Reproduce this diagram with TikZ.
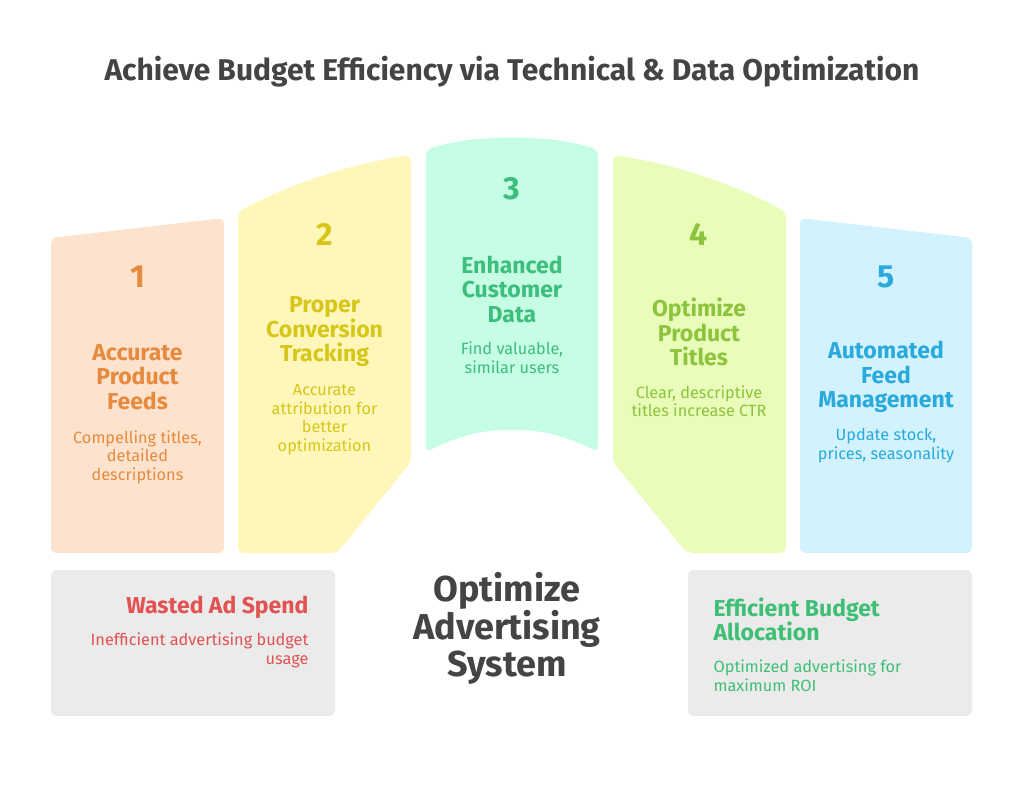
\documentclass[tikz,border=0pt]{standalone}
\usepackage{fontspec}
\setmainfont{Fira Sans}
\usepackage{tikz}

\definecolor{peachfill}{HTML}{FDE3CD}
\definecolor{peachtxt}{HTML}{E58A3E}
\definecolor{yellowfill}{HTML}{FEF7B9}
\definecolor{yellowtxt}{HTML}{D6C61A}
\definecolor{mintfill}{HTML}{C6FDE5}
\definecolor{minttxt}{HTML}{3DBE7C}
\definecolor{limefill}{HTML}{E9FCB9}
\definecolor{limetxt}{HTML}{8DC43D}
\definecolor{cyanfill}{HTML}{D2F3FE}
\definecolor{cyantxt}{HTML}{29A9DC}
\definecolor{boxgray}{HTML}{EBEBEB}
\definecolor{wastered}{HTML}{E15251}
\definecolor{goodgreen}{HTML}{3FBF76}
\definecolor{darktxt}{HTML}{444444}

\begin{document}
\begin{tikzpicture}[x=1pt, y=-1pt,
  numtxt/.style={font=\fontsize{32}{32}\selectfont\bfseries},
  ttltxt/.style={align=center, font=\fontsize{23}{24.5}\selectfont\bfseries},
  dsctxt/.style={align=center, font=\fontsize{16.3}{18.5}\selectfont}]
\useasboundingbox [fill=white] (0,0) rectangle (1024,793);

% title
\node (title) [text=darktxt, font=\fontsize{30}{30}\selectfont\bfseries] at (512,72) {Achieve Budget Efficiency via Technical \& Data Optimization};

% five columns
\fill [peachfill, rounded corners=6] (51,553) -- (51,238) -- (224,218) -- (224,553) -- cycle;
\fill [yellowfill, rounded corners=6] (238,553) -- (238,212) .. controls (290,184) and (350,164) .. (411,155) -- (411,462) -- (337,553) -- cycle;
\fill [mintfill, rounded corners=6] (426,452) -- (426,150) .. controls (470,134) and (554,134) .. (598,150) -- (598,452) .. controls (570,438) and (545,430) .. (512,430) .. controls (479,430) and (454,438) .. (426,452) -- cycle;
\fill [limefill, rounded corners=6] (613,462) -- (613,155) .. controls (674,164) and (734,184) .. (786,212) -- (786,553) -- (687,553) -- cycle;
\fill [cyanfill, rounded corners=6] (800,553) -- (800,218) -- (972,238) -- (972,553) -- cycle;

% column 1
\node (num1) [numtxt, text=peachtxt] at (137.5,277) {1};
\node (ttl1) [ttltxt, text=peachtxt] at (137.5,377) {Accurate\\Product\\Feeds};
\node (dsc1) [dsctxt, text=peachtxt] at (137.5,457) {Compelling titles,\\detailed\\descriptions};

% column 2
\node (num2) [numtxt, text=yellowtxt] at (324.5,234) {2};
\node (ttl2) [ttltxt, text=yellowtxt] at (324.5,332) {Proper\\Conversion\\Tracking};
\node (dsc2) [dsctxt, text=yellowtxt] at (324.5,419.5) {Accurate\\attribution for\\better\\optimization};

% column 3
\node (num3) [numtxt, text=minttxt] at (512,189) {3};
\node (ttl3) [ttltxt, text=minttxt] at (512,289) {Enhanced\\Customer\\Data};
\node (dsc3) [dsctxt, text=minttxt] at (512,357.5) {Find valuable,\\similar users};

% column 4
\node (num4) [numtxt, text=limetxt] at (699,234) {4};
\node (ttl4) [ttltxt, text=limetxt] at (699,332) {Optimize\\Product\\Titles};
\node (dsc4) [dsctxt, text=limetxt] at (699,401) {Clear, descriptive\\titles increase CTR};

% column 5
\node (num5) [numtxt, text=cyantxt] at (886,277) {5};
\node (ttl5) [ttltxt, text=cyantxt] at (886,377) {Automated\\Feed\\Management};
\node (dsc5) [dsctxt, text=cyantxt] at (886,445.5) {Update stock,\\prices, seasonality};

% bottom boxes
\fill [boxgray, rounded corners=5] (51,570) rectangle (335,716);
\fill [boxgray, rounded corners=5] (688,570) rectangle (972,716);

\node (waste) [ttltxt, align=right, anchor=east, text=wastered] at (312,607) {Wasted Ad Spend};
\node (wastedsc) [dsctxt, align=right, anchor=east, text=wastered] at (312,650.5) {Inefficient advertising budget\\usage};

\node (effic) [ttltxt, align=left, anchor=west, text=goodgreen] at (710,619.5) {Efficient Budget\\Allocation};
\node (efficdsc) [dsctxt, align=left, anchor=west, text=goodgreen] at (710,675.5) {Optimized advertising for\\maximum ROI};

% centre label
\node (system) [align=center, text=darktxt, font=\fontsize{36}{37}\selectfont\bfseries] at (507,628) {Optimize\\Advertising\\System};
\end{tikzpicture}
\end{document}
